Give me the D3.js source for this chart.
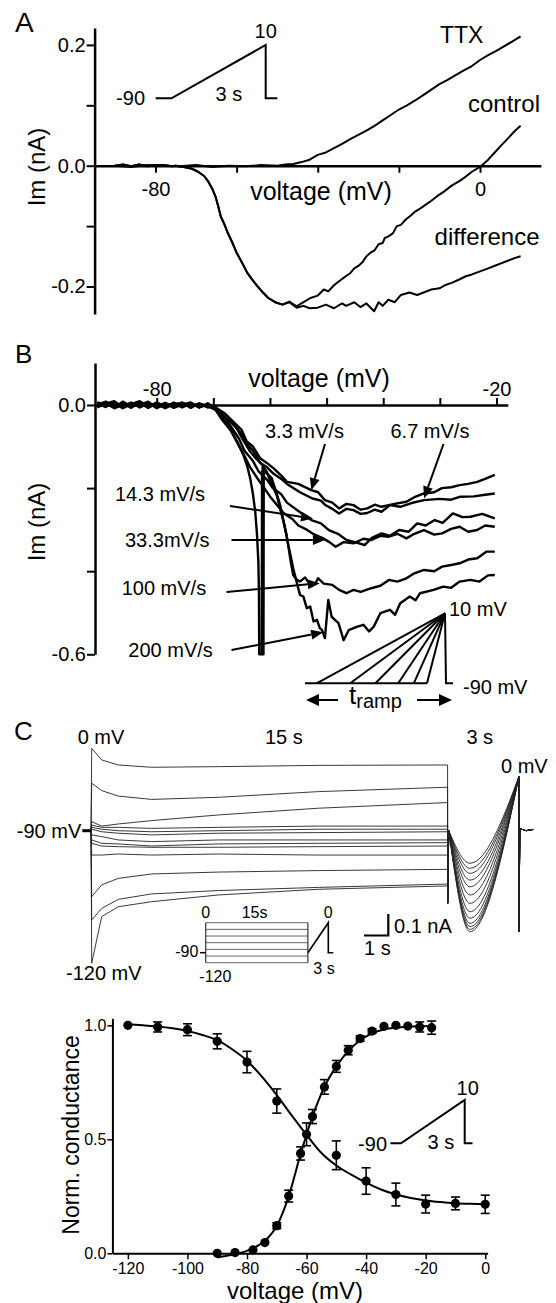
<!DOCTYPE html>
<html><head><meta charset="utf-8">
<script src="https://cdn.jsdelivr.net/npm/d3@7"></script>
<style>
body{margin:0;background:#fff}
svg{display:block;background:#fff}
text{font-family:"Liberation Sans",Arial,Helvetica,sans-serif;fill:#000}
</style></head><body>
<svg id="fig" width="556" height="1303"></svg>
<script>
// ---------------- DATA ----------------
// Panel A: I-V relations (voltage mV, current nA)
const aTTX = [[-90,0],[-86,-0.002],[-82,0.001],[-78,0],[-74,-0.001],[-70,0.001],[-66,-0.002],[-62,0],[-58,-0.001],[-54,0.001],[-50,0],[-48,0.002],[-46,0.003],[-44,0.006],[-42,0.01],[-40,0.018],[-38,0.022],[-36,0.029],[-34,0.036],[-32,0.044],[-30,0.051],[-28,0.058],[-26,0.066],[-24,0.075],[-22,0.084],[-20,0.093],[-18,0.1],[-16,0.108],[-14,0.117],[-12,0.126],[-10,0.135],[-8,0.142],[-6,0.15],[-4,0.158],[-2,0.165],[0,0.175],[2,0.183],[4,0.19],[6,0.198],[8,0.206],[10,0.214]];
const aOnset = [[-90,0],[-88,0.002],[-86,-0.001],[-84,0.002],[-82,-0.001],[-80,0.001],[-78,0.001],[-76,-0.001],[-75,0],[-73,-0.002],[-71,-0.005],[-69.5,-0.01],[-68,-0.017],[-67,-0.026],[-66,-0.038],[-65.2,-0.051],[-64.5,-0.068],[-63.9,-0.084],[-63,-0.097],[-62.2,-0.111],[-61,-0.128],[-60,-0.144],[-58.7,-0.16],[-57.4,-0.177],[-56,-0.19],[-54.8,-0.2],[-53.5,-0.21],[-52.2,-0.219],[-50.5,-0.226],[-48.7,-0.23]];
const aControlTail = [[-47,-0.225],[-45.2,-0.233],[-43.5,-0.226],[-41.8,-0.219],[-40,-0.215],[-38.5,-0.205],[-37.4,-0.208],[-36,-0.198],[-34.5,-0.19],[-33.1,-0.183],[-32,-0.178],[-31,-0.17],[-30,-0.166],[-29,-0.16],[-28,-0.15],[-27,-0.144],[-26,-0.14],[-25,-0.13],[-24,-0.128],[-23.5,-0.12],[-22.6,-0.117],[-21.5,-0.112],[-20.5,-0.1],[-19.5,-0.098],[-18.3,-0.089],[-17,-0.082],[-16,-0.076],[-15,-0.072],[-13.9,-0.067],[-12,-0.058],[-10.5,-0.05],[-8.7,-0.042],[-7,-0.033],[-5,-0.025],[-3.5,-0.018],[-2,-0.01],[0,-0.002],[2,0.01],[3.5,0.021],[5,0.032],[7,0.046],[8.5,0.057],[10,0.066]];
const aDiffTail = [[-47,-0.226],[-45.2,-0.235],[-43.5,-0.232],[-42,-0.236],[-40,-0.235],[-38,-0.23],[-36,-0.236],[-34,-0.228],[-33,-0.232],[-31,-0.226],[-29.5,-0.234],[-28,-0.228],[-26.1,-0.241],[-25,-0.226],[-24,-0.232],[-22.6,-0.222],[-21,-0.226],[-19.5,-0.214],[-17.4,-0.21],[-15.5,-0.214],[-13.9,-0.21],[-12,-0.205],[-10,-0.203],[-8.7,-0.198],[-7,-0.194],[-5,-0.188],[-3.5,-0.183],[-2,-0.18],[0,-0.175],[2,-0.17],[3.5,-0.166],[5,-0.162],[7,-0.157],[8.5,-0.153],[10,-0.15]];
const aYTicks = [-0.2,-0.1,0,0.1,0.2];
const aYLabels = {"-0.2":"-0.2","0":"0.0","0.2":"0.2"};
const aXTicks = [-80,-60,-40,-20,0];
const aXLabels = {"-80":"-80","0":"0"};
const rampProtocol = [[-0.5,-90],[0,-90],[3,10],[3,-90],[3.37,-90]]; // s, mV

// Panel B: ramp-speed I-V traces
const b3_3 = [[-90.5,0.004],[-89,-0.005],[-87.5,0.007],[-86,-0.003],[-84.5,0.006],[-83,-0.006],[-81.5,0.003],[-80,-0.004],[-78.5,0.005],[-77,-0.005],[-75.5,0.003],[-74,-0.004],[-72.5,0.002],[-71,-0.004],[-70,-0.002],[-69.4,-0.008],[-68,-0.02],[-66.5,-0.04],[-65,-0.06],[-64.1,-0.088],[-63,-0.1],[-61.75,-0.128],[-60.5,-0.14],[-59.4,-0.152],[-58,-0.17],[-57,-0.185],[-55,-0.19],[-52.7,-0.205],[-51.5,-0.21],[-50.3,-0.229],[-49,-0.235],[-47.8,-0.249],[-46.5,-0.238],[-45.25,-0.241],[-44,-0.252],[-42.8,-0.249],[-41.5,-0.24],[-40.3,-0.245],[-38,-0.238],[-35.9,-0.233],[-34.5,-0.222],[-32.8,-0.213],[-31,-0.21],[-29.65,-0.2],[-28,-0.198],[-26.5,-0.193],[-25,-0.19],[-23.4,-0.185],[-22,-0.178],[-20.3,-0.168]];
const b6_7 = [[-90.5,-0.004],[-89,0.006],[-87.5,-0.006],[-86,0.008],[-84.5,-0.004],[-83,0.005],[-81.5,-0.007],[-80,0.006],[-78.5,-0.003],[-77,0.004],[-75.5,-0.006],[-74,0.003],[-72.5,-0.005],[-71,0.001],[-70,-0.004],[-69,-0.012],[-67.5,-0.028],[-66.5,-0.045],[-65,-0.07],[-64,-0.095],[-63,-0.11],[-61.7,-0.14],[-60.5,-0.15],[-59.4,-0.165],[-58,-0.178],[-57,-0.19],[-54.7,-0.21],[-52.5,-0.225],[-51,-0.23],[-50.3,-0.24],[-49,-0.25],[-47.8,-0.261],[-46.5,-0.25],[-45.25,-0.253],[-44,-0.262],[-42.8,-0.26],[-41.5,-0.252],[-40.3,-0.257],[-38.8,-0.241],[-37,-0.245],[-35,-0.236],[-32.8,-0.229],[-30,-0.226],[-28,-0.228],[-26.5,-0.221],[-24,-0.22],[-22,-0.216],[-20.3,-0.213]];
const b14_3 = [[-90.5,0.001],[-89,0.008],[-87.5,-0.004],[-86,0.004],[-84.5,-0.007],[-83,0.007],[-81.5,-0.002],[-80,0.005],[-78.5,-0.006],[-77,0.006],[-75.5,-0.003],[-74,0.005],[-72.5,-0.006],[-71,0.002],[-69.5,-0.01],[-68,-0.03],[-67,-0.05],[-65.5,-0.08],[-64.5,-0.11],[-63,-0.135],[-62,-0.16],[-60.5,-0.18],[-59.5,-0.2],[-58,-0.215],[-57,-0.235],[-55,-0.255],[-52.7,-0.277],[-51,-0.285],[-49.6,-0.301],[-48,-0.31],[-46.5,-0.325],[-45,-0.33],[-43.3,-0.337],[-42,-0.32],[-40.3,-0.309],[-38.8,-0.315],[-37.2,-0.301],[-35.5,-0.305],[-34,-0.285],[-32.5,-0.29],[-30.9,-0.277],[-29.5,-0.284],[-27.7,-0.261],[-26,-0.27],[-24.6,-0.269],[-22.5,-0.262],[-20.3,-0.273]];
const b33_3 = [[-90.5,-0.006],[-89,0.003],[-87.5,0.009],[-86,-0.006],[-84.5,0.003],[-83,-0.003],[-81.5,0.008],[-80,-0.007],[-78.5,0.002],[-77,-0.002],[-75.5,0.006],[-74,-0.007],[-72.5,0.004],[-71,-0.003],[-69.6,-0.012],[-68.5,-0.035],[-67,-0.06],[-65.8,-0.09],[-64.6,-0.12],[-63.5,-0.15],[-62.3,-0.175],[-61,-0.2],[-60,-0.22],[-58.8,-0.24],[-57.6,-0.26],[-56,-0.275],[-55,-0.29],[-53.5,-0.3],[-52.4,-0.31],[-50.6,-0.321],[-49.5,-0.33],[-48.4,-0.341],[-47,-0.33],[-45.25,-0.333],[-43.5,-0.322],[-42.1,-0.325],[-40.5,-0.315],[-39,-0.317],[-37.5,-0.31],[-35.9,-0.321],[-34.5,-0.31],[-32.8,-0.301],[-31,-0.312],[-29.6,-0.309],[-28,-0.298],[-26.5,-0.293],[-25,-0.305],[-23.4,-0.301],[-22,-0.29],[-20.3,-0.293]];
const b100 = [[-90.5,0.007],[-89,-0.002],[-87.5,0.004],[-86,-0.008],[-84.5,0.002],[-83,0.009],[-81.5,-0.005],[-80,0.002],[-78.5,-0.008],[-77,0.002],[-75.5,0.005],[-74,-0.002],[-72.5,0.003],[-71,-0.006],[-70,-0.003],[-68.5,-0.025],[-67,-0.04],[-65.9,-0.056],[-64.7,-0.085],[-63.5,-0.112],[-62.4,-0.13],[-61.3,-0.144],[-61.25,-0.6],[-61.15,-0.6],[-61.1,-0.15],[-60.6,-0.16],[-59.7,-0.19],[-58.8,-0.217],[-58.2,-0.25],[-57.6,-0.281],[-57.1,-0.31],[-56.7,-0.345],[-56.3,-0.38],[-55.9,-0.409],[-55.3,-0.42],[-54.7,-0.425],[-53.8,-0.415],[-52.9,-0.433],[-52,-0.43],[-51.5,-0.417],[-50.5,-0.43],[-49,-0.433],[-47.8,-0.445],[-46.5,-0.453],[-45.25,-0.445],[-44,-0.45],[-42.1,-0.441],[-40.5,-0.435],[-39,-0.421],[-37.5,-0.425],[-35.9,-0.417],[-34.5,-0.405],[-32.8,-0.397],[-31,-0.4],[-29.6,-0.389],[-28,-0.385],[-26.5,-0.381],[-25,-0.372],[-23.4,-0.369],[-21.8,-0.353],[-20.3,-0.353]];
const b200 = [[-90.5,-0.002],[-89,0.005],[-87.5,-0.008],[-86,0.001],[-84.5,-0.004],[-83,0.003],[-81.5,0.006],[-80,-0.008],[-78.5,0.004],[-77,-0.007],[-75.5,0.001],[-74,0.006],[-72.5,-0.006],[-71,0.004],[-70,-0.005],[-68.5,-0.03],[-67.05,-0.056],[-65.8,-0.088],[-64.7,-0.12],[-64,-0.148],[-63.5,-0.176],[-63,-0.215],[-62.6,-0.257],[-62.3,-0.31],[-62.05,-0.377],[-61.95,-0.45],[-61.9,-0.6],[-61.45,-0.6],[-61.4,-0.16],[-60.5,-0.165],[-59.7,-0.176],[-58.9,-0.21],[-58.2,-0.241],[-57.6,-0.28],[-57,-0.321],[-56.4,-0.36],[-55.9,-0.393],[-55.3,-0.425],[-54.7,-0.457],[-54.1,-0.461],[-53.5,-0.489],[-52.9,-0.485],[-52.3,-0.521],[-51.7,-0.517],[-51.2,-0.537],[-50.8,-0.542],[-50.3,-0.561],[-49.7,-0.469],[-49.1,-0.51],[-47.9,-0.525],[-47,-0.566],[-46.1,-0.542],[-44.7,-0.534],[-43.5,-0.529],[-42.5,-0.545],[-41.7,-0.534],[-40.5,-0.501],[-38.8,-0.493],[-37.9,-0.505],[-37,-0.477],[-35.3,-0.461],[-34.3,-0.47],[-33.5,-0.453],[-31.1,-0.445],[-29.4,-0.437],[-28,-0.44],[-26.5,-0.425],[-24.6,-0.421],[-23,-0.425],[-21.5,-0.41],[-20.3,-0.409]];
const bYTicks = [-0.6,-0.4,-0.2,0];
const bYLabels = {"-0.6":"-0.6","0":"0.0"};
const bXTicks = [-80,-70,-60,-50,-40,-30,-20];
const bXLabels = {"-80":"-80","-20":"-20"};
const bRampUnits = [10.7,7.9,5.8,3.9,2.6,1.5]; // schematic ramp durations (arb. units)

// Panel C: currents (nA) during 15 s prepulses then 3 s ramp
const cTimes = [0.03,0.45,1.15,2.55,5.36,9.56,15];
const cSteps = [
  [0.392,0.337,0.313,0.302,0.305,0.311,0.313],
  [0.226,0.191,0.165,0.149,0.159,0.186,0.207],
  [0.043,0.022,0.032,0.048,0.075,0.107,0.134],
  [0.027,0.016,0.016,0.011,0.016,0.022,0.022],
  [0.016,0.007,0.0,-0.005,0.0,0.007,0.007],
  [0.007,-0.005,-0.012,-0.020,-0.012,-0.009,-0.005],
  [-0.020,-0.028,-0.044,-0.052,-0.044,-0.044,-0.044],
  [-0.044,-0.060,-0.063,-0.073,-0.063,-0.060,-0.057],
  [-0.060,-0.073,-0.076,-0.079,-0.079,-0.076,-0.073],
  [-0.116,-0.116,-0.111,-0.116,-0.111,-0.116,-0.116],
  [-0.314,-0.258,-0.227,-0.206,-0.197,-0.190,-0.184],
  [-0.425,-0.370,-0.327,-0.301,-0.285,-0.270,-0.254],
  [-0.631,-0.409,-0.362,-0.338,-0.306,-0.279,-0.263]
];
const cRampMin = [-0.155,-0.179,-0.203,-0.235,-0.267,-0.306,-0.346,-0.386,-0.417,-0.441,-0.457,-0.470,-0.481];
const cRampTimes = [15.05,15.94,18.0];
const cRampEnd = 0.257;
const cOffTransient = -0.346;
const cTailTransient = -0.481;
const cInsetLevels = [0,-20,-40,-60,-80,-100,-120];

// Panel D: normalized conductance
const inactV    = [-120,-110,-100,-90,-80,-70,-60,-50,-40,-30,-20,-10,0];
const inactMean = [1.0,0.993,0.981,0.93,0.839,0.668,0.522,0.43,0.317,0.258,0.216,0.219,0.215];
const inactErr  = [0,0.022,0.026,0.033,0.047,0.053,0.05,0.063,0.058,0.05,0.039,0.028,0.04];
const actV    = [-90,-84,-78,-74,-70,-66,-62,-58,-54,-50,-46,-42,-38,-34,-30,-26,-22,-18];
const actMean = [0.0,0.003,0.015,0.047,0.121,0.251,0.438,0.6,0.73,0.82,0.891,0.942,0.975,0.996,1.0,0.997,0.993,0.99];
const actErr  = [0,0,0,0,0.013,0.026,0.029,0.031,0.032,0.026,0.02,0.012,0.01,0,0,0,0.022,0.029];
const inactFit = [[-120,1.005],[-115,1.0],[-110,0.995],[-105,0.987],[-100,0.975],[-95,0.958],[-90,0.935],[-85,0.895],[-80,0.845],[-75,0.775],[-70,0.694],[-65,0.605],[-60,0.52],[-55,0.44],[-50,0.385],[-45,0.345],[-40,0.31],[-35,0.28],[-30,0.258],[-25,0.243],[-20,0.232],[-15,0.225],[-10,0.22],[-5,0.217],[0,0.215]];
const actFit = [[-90,-0.018],[-86,-0.009],[-82,0.003],[-78,0.022],[-74,0.055],[-70,0.12],[-66,0.25],[-62,0.435],[-58,0.6],[-54,0.73],[-50,0.82],[-46,0.887],[-42,0.935],[-38,0.965],[-34,0.982],[-30,0.99],[-26,0.994],[-22,0.996],[-18,0.997]];
const dXTicks = [-120,-100,-80,-60,-40,-20,0];
const dYTicks = [0,0.5,1.0];

// ---------------- DRAW ----------------
const svg = d3.select("#fig");
const FONT = 20;

function txt(x,y,s,size,anchor){
  return svg.append("text").attr("x",x).attr("y",y).attr("font-size",size||FONT)
    .attr("text-anchor",anchor||"start").text(s);
}
function vtxt(x,y,s,size){
  return svg.append("text").attr("transform",`translate(${x},${y}) rotate(-90)`)
    .attr("font-size",size).attr("text-anchor","middle").text(s);
}
function arrow(x1,y1,x2,y2,hl,hw){
  hl=hl||12; hw=hw||5;
  const dx=x2-x1, dy=y2-y1, L=Math.hypot(dx,dy), ux=dx/L, uy=dy/L;
  const bx=x2-ux*hl, by=y2-uy*hl;
  svg.append("line").attr("x1",x1).attr("y1",y1).attr("x2",bx).attr("y2",by)
    .attr("stroke","#000").attr("stroke-width",2);
  svg.append("path").attr("d",`M${x2},${y2}L${bx-uy*hw},${by+ux*hw}L${bx+uy*hw},${by-ux*hw}Z`).attr("fill","#000");
}
function styleAxis(g,w,tw,size){
  g.select(".domain").attr("stroke","#000").attr("stroke-width",w);
  g.selectAll(".tick line").attr("stroke","#000").attr("stroke-width",tw);
  g.selectAll(".tick text").attr("font-size",size).attr("font-family",'"Liberation Sans",Arial,sans-serif').attr("fill","#000");
}

// ===== Panel A =====
const xA = d3.scaleLinear().domain([-95,15]).range([94.6,540.9]);
const yA = d3.scaleLinear().domain([-0.2455,0.228]).range([314,28]);
const lineA = d3.line().x(d=>xA(d[0])).y(d=>yA(d[1]));
const gAy = svg.append("g").attr("transform",`translate(${xA(-95)},0)`)
  .call(d3.axisLeft(yA).tickValues(aYTicks).tickSize(8).tickPadding(1).tickSizeOuter(0)
  .tickFormat(v=>aYLabels[String(+v.toFixed(2))]||""));
styleAxis(gAy,2.5,2,FONT);
const gAx = svg.append("g").attr("transform",`translate(0,${yA(0)})`)
  .call(d3.axisBottom(xA).tickValues(aXTicks).tickSize(7).tickPadding(9).tickSizeOuter(0)
  .tickFormat(v=>aXLabels[String(v)]||""));
styleAxis(gAx,2.5,2,FONT);
[aTTX, aOnset.concat(aControlTail), aOnset.concat(aDiffTail)].forEach(d=>{
  svg.append("path").datum(d).attr("d",lineA).attr("fill","none").attr("stroke","#000")
    .attr("stroke-width",2).attr("stroke-linejoin","round");
});
txt(15,32,"A",28);
txt(440,43,"TTX",23);
txt(468,112,"control",24);
txt(434.6,245,"difference",24);
txt(321,200,"voltage (mV)",25,"middle");
vtxt(45,167,"Im (nA)",24);
// inset ramp A
const iAx = d3.scaleLinear().domain([0,3]).range([171.4,265.7]);
const iAy = d3.scaleLinear().domain([-90,10]).range([98.3,45]);
svg.append("path").datum(rampProtocol).attr("d",d3.line().x(d=>iAx(d[0])).y(d=>iAy(d[1])))
  .attr("fill","none").attr("stroke","#000").attr("stroke-width",2);
txt(145,105,"-90",20,"end");
txt(iAx(3),38,"10",20,"middle");
txt(215.5,101,"3 s",20);

// ===== Panel B =====
const xB = d3.scaleLinear().domain([-90.9,-18.0]).range([95,507.8]);
const yB = d3.scaleLinear().domain([-0.6,0.101]).range([654.3,363]);
const lineB = d3.line().x(d=>xB(d[0])).y(d=>yB(d[1]));
const gBy = svg.append("g").attr("transform",`translate(${xB(-90.9)},0)`)
  .call(d3.axisLeft(yB).tickValues(bYTicks).tickSize(8).tickPadding(1).tickSizeOuter(0)
  .tickFormat(v=>bYLabels[String(+v.toFixed(2))]||""));
styleAxis(gBy,2.5,2,FONT);
const gBx = svg.append("g").attr("transform",`translate(0,${yB(0)})`)
  .call(d3.axisTop(xB).tickValues(bXTicks).tickSize(7).tickPadding(2).tickSizeOuter(0)
  .tickFormat(v=>bXLabels[String(v)]||""));
styleAxis(gBx,2.5,2,FONT);
[b3_3,b6_7,b14_3,b33_3,b100,b200].forEach(d=>{
  svg.append("path").datum(d).attr("d",lineB).attr("fill","none").attr("stroke","#000")
    .attr("stroke-width",2.4).attr("stroke-linejoin","round");
});
txt(15,363,"B",26);
txt(319,387,"voltage (mV)",25,"middle");
vtxt(45,522,"Im (nA)",24);
txt(265,438,"3.3 mV/s",20);
txt(390.5,438,"6.7 mV/s",20);
txt(115,501,"14.3 mV/s",20);
txt(125,547,"33.3mV/s",20);
txt(121.7,595,"100 mV/s",20);
txt(128.3,657,"200 mV/s",20);
arrow(325,444,xB(-52.7),yB(-0.205));
arrow(443.5,444,xB(-32.8),yB(-0.225));
arrow(230,506,xB(-52.4),yB(-0.273));
arrow(231.5,540,xB(-50.3),yB(-0.325));
arrow(226.5,592,xB(-51.2),yB(-0.429));
arrow(231.5,650,xB(-50.6),yB(-0.547));
// inset fan B
const iBx = d3.scaleLinear().domain([0,1]).range([445,433.0]);
const iBy = d3.scaleLinear().domain([-90,10]).range([683.3,613.3]);
svg.append("line").attr("x1",305).attr("x2",iBx(bRampUnits[bRampUnits.length-1])).attr("y1",iBy(-90)).attr("y2",iBy(-90))
  .attr("stroke","#000").attr("stroke-width",2);
bRampUnits.forEach(u=>{
  svg.append("line").attr("x1",iBx(u)).attr("y1",iBy(-90)).attr("x2",iBx(0)).attr("y2",iBy(10))
    .attr("stroke","#000").attr("stroke-width",2);
});
svg.append("path").attr("d",`M${iBx(0)},${iBy(10)}L${iBx(0)+1},${iBy(-90)}L${iBx(0)+8},${iBy(-90)}`)
  .attr("fill","none").attr("stroke","#000").attr("stroke-width",2);
txt(449,616,"10 mV",20);
txt(463,694,"-90 mV",20);
arrow(338,700,306,700,13,6);
arrow(417,700,452,700,13,6);
const tr = svg.append("text").attr("x",349).attr("y",704).attr("font-size",26);
tr.append("tspan").text("t");
tr.append("tspan").attr("font-size",20).attr("dy",4).text("ramp");

// ===== Panel C =====
const xC = d3.scaleLinear().domain([0,18]).range([91,518.9]);
const yC = d3.scaleLinear().domain([-0.65,0.4]).range([967.2,746.7]);
const lineC = d3.line().x(d=>xC(d[0])).y(d=>yC(d[1]));
const lineCr = d3.line().x(d=>xC(d[0])).y(d=>yC(d[1])).curve(d3.curveMonotoneX);
cSteps.forEach((vals,i)=>{
  const step = [[0,0]].concat(cTimes.map((t,k)=>[t,vals[k]]));
  step.push([15,cOffTransient],[cRampTimes[0],0.0]);
  svg.append("path").datum(step).attr("d",lineC).attr("fill","none").attr("stroke","#222").attr("stroke-width",0.9);
  const ramp = [[cRampTimes[0],0.0],[cRampTimes[1],cRampMin[i]],[cRampTimes[2],cRampEnd]];
  svg.append("path").datum(ramp).attr("d",lineCr).attr("fill","none").attr("stroke","#222").attr("stroke-width",0.9);
  const tail = [[18,cRampEnd],[18,cTailTransient],[18.04,0.01],[18.3,0.0],[18.6,0.006]];
  svg.append("path").datum(tail).attr("d",lineC).attr("fill","none").attr("stroke","#222").attr("stroke-width",0.9);
});
svg.append("line").attr("x1",82.3).attr("x2",xC(0)).attr("y1",yC(0)).attr("y2",yC(0)).attr("stroke","#000").attr("stroke-width",3);
txt(14,740,"C",26);
txt(77.7,744,"0 mV",20);
txt(265,744,"15 s",20);
txt(466.4,744,"3 s",20);
txt(501,773,"0 mV",20);
txt(81.3,838,"-90 mV",20,"end");
txt(66,980,"-120 mV",20);
// scale bar
svg.append("path").attr("d",`M364,935.5L388.3,935.5L388.3,914`).attr("fill","none").attr("stroke","#000").attr("stroke-width",2.2);
txt(394,933,"0.1 nA",20);
txt(364,955,"1 s",20);
// inset C protocol
const iCx = d3.scaleLinear().domain([0,18]).range([205.7,328.3]);
const iCy = d3.scaleLinear().domain([-120,0]).range([962.7,922.7]);
cInsetLevels.forEach(v=>{
  svg.append("line").attr("x1",iCx(0)).attr("x2",iCx(15)).attr("y1",iCy(v)).attr("y2",iCy(v)).attr("stroke","#666").attr("stroke-width",1);
});
[0,15].forEach(t=>{
  svg.append("line").attr("x1",iCx(t)).attr("x2",iCx(t)).attr("y1",iCy(0)).attr("y2",iCy(-120)).attr("stroke","#333").attr("stroke-width",1.2);
});
svg.append("path").datum([[15,-90],[18,0],[18,-90],[18.73,-90]])
  .attr("d",d3.line().x(d=>iCx(d[0])).y(d=>iCy(d[1]))).attr("fill","none").attr("stroke","#000").attr("stroke-width",1.6);
svg.append("line").attr("x1",200).attr("x2",iCx(0)).attr("y1",iCy(-90)).attr("y2",iCy(-90)).attr("stroke","#000").attr("stroke-width",1.5);
txt(iCx(0),918,"0",16,"middle");
txt(241.7,918,"15s",16);
txt(iCx(18),918,"0",16,"middle");
txt(198.3,957,"-90",16,"end");
txt(199.3,982,"-120",16);
txt(313.3,974,"3 s",16);

// ===== Panel D =====
const xD = d3.scaleLinear().domain([-125.2,0.8]).range([112.4,487.6]);
const yD = d3.scaleLinear().domain([0,1.031]).range([1253.3,1018.3]);
const lineD = d3.line().x(d=>xD(d[0])).y(d=>yD(d[1])).curve(d3.curveMonotoneX);
const gDx = svg.append("g").attr("transform",`translate(0,${yD(0)})`)
  .call(d3.axisBottom(xD).tickValues(dXTicks).tickSize(6).tickPadding(3).tickSizeOuter(0).tickFormat(d3.format("d")));
styleAxis(gDx,2,1.5,16);
gDx.selectAll(".tick text").text(d=>String(d).replace("\u2212","-"));
const gDy = svg.append("g").attr("transform",`translate(${xD(-125.2)},0)`)
  .call(d3.axisLeft(yD).tickValues(dYTicks).tickSize(5).tickPadding(1).tickSizeOuter(0).tickFormat(d3.format(".1f")));
styleAxis(gDy,2,1.5,16);
[inactFit, actFit].forEach(d=>{
  svg.append("path").datum(d).attr("d",lineD).attr("fill","none").attr("stroke","#000").attr("stroke-width",2);
});
function pointsD(V,M,E){
  V.forEach((v,i)=>{
    const x=xD(v);
    if(E[i]>0){
      svg.append("line").attr("x1",x).attr("x2",x).attr("y1",yD(M[i]-E[i])).attr("y2",yD(M[i]+E[i])).attr("stroke","#000").attr("stroke-width",1.6);
      [M[i]-E[i],M[i]+E[i]].forEach(e=>svg.append("line").attr("x1",x-4.5).attr("x2",x+4.5).attr("y1",yD(e)).attr("y2",yD(e)).attr("stroke","#000").attr("stroke-width",1.6));
    }
    svg.append("circle").attr("cx",x).attr("cy",yD(M[i])).attr("r",4.6).attr("fill","#000");
  });
}
pointsD(inactV,inactMean,inactErr);
pointsD(actV,actMean,actErr);
vtxt(79,1135,"Norm. conductance",23);
txt(295,1299,"voltage (mV)",24,"middle");
const iDx = d3.scaleLinear().domain([0,3]).range([401,464.7]);
const iDy = d3.scaleLinear().domain([-90,10]).range([1143.3,1100]);
svg.append("path").datum(rampProtocol).attr("d",d3.line().x(d=>iDx(d[0])).y(d=>iDy(d[1])))
  .attr("fill","none").attr("stroke","#000").attr("stroke-width",2);
txt(387,1151,"-90",20,"end");
txt(iDx(3)+3,1095,"10",20,"middle");
txt(427.6,1149,"3 s",20);
</script></body></html>
